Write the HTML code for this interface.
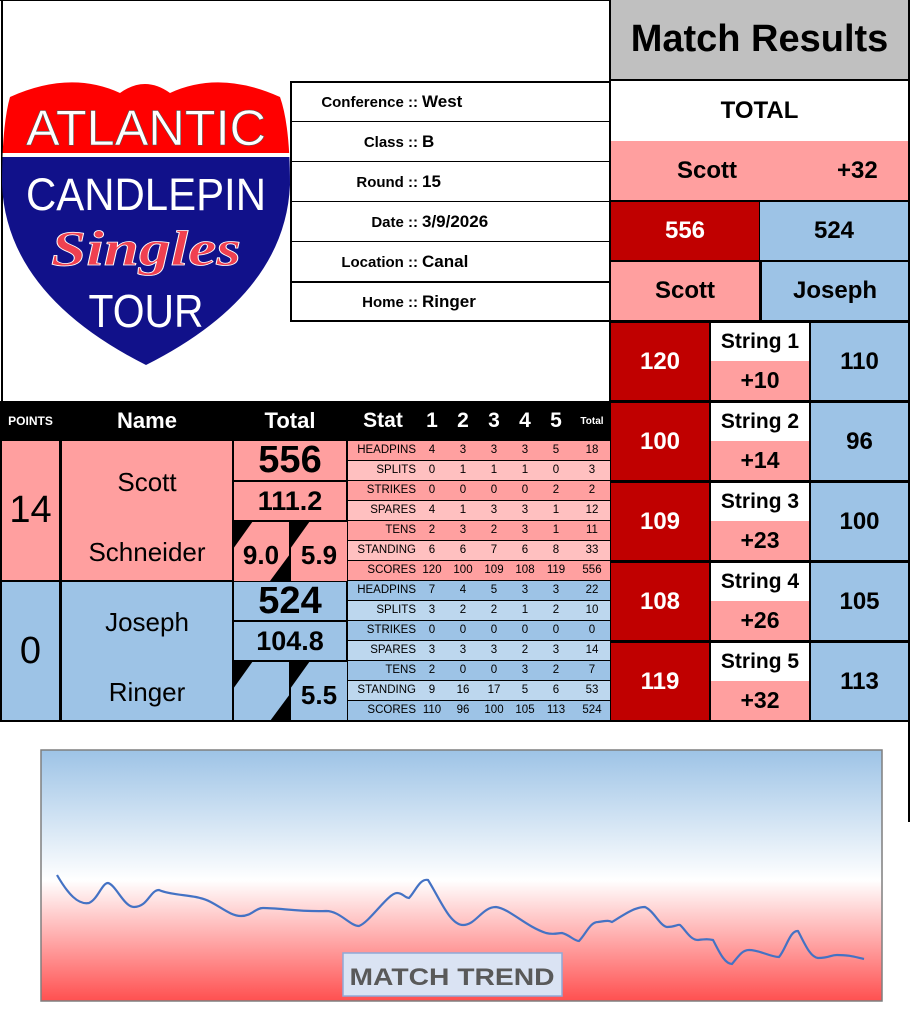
<!DOCTYPE html>
<html><head><meta charset="utf-8"><style>
*{margin:0;padding:0;box-sizing:border-box}
body{width:912px;height:1023px;background:#fff;position:relative;overflow:hidden;font-family:"Liberation Sans",sans-serif;color:#000}
.a{position:absolute;display:flex;align-items:center;justify-content:center;white-space:nowrap}
.b{font-weight:bold}
.st{position:absolute;left:347px;width:263px;height:20px;font-size:11.5px;border-bottom:1px solid #000}
.st span{position:absolute;top:3px;text-align:center;width:30px}
.st .l{left:0;width:68px;text-align:right}
</style></head><body>
<!-- outer lines -->
<div style="position:absolute;left:1px;top:0;width:2px;height:721px;background:#000"></div>
<div style="position:absolute;left:0;top:0;width:612px;height:1px;background:#000"></div>
<div style="position:absolute;left:908px;top:0;width:2px;height:822px;background:#000"></div>

<!-- logo -->
<svg style="position:absolute;left:0;top:75px" width="292" height="300">
<defs><clipPath id="sh"><path d="M10 22 Q70 -5 120 18 Q145 0 170 18 Q220 -5 280 22 Q290 50 290 110 Q285 220 146 290 Q7 220 2 110 Q2 50 10 22Z"/></clipPath></defs>
<g clip-path="url(#sh)">
<rect x="0" y="0" width="292" height="78" fill="#f00"/>
<rect x="0" y="78" width="292" height="4" fill="#fff"/>
<rect x="0" y="82" width="292" height="230" fill="#11118a"/>
</g>
<text x="146" y="70" text-anchor="middle" fill="#fff" stroke="#555" stroke-width="0.6" font-family="Liberation Sans" font-size="50" textLength="240" lengthAdjust="spacingAndGlyphs">ATLANTIC</text>
<text x="146" y="135" text-anchor="middle" fill="#fff" font-family="Liberation Sans" font-size="45" textLength="240" lengthAdjust="spacingAndGlyphs">CANDLEPIN</text>
<text x="146" y="190" text-anchor="middle" fill="#f04050" stroke="#fff" stroke-width="0.8" font-family="Liberation Serif" font-style="italic" font-weight="bold" font-size="50" textLength="190" lengthAdjust="spacingAndGlyphs">Singles</text>
<text x="146" y="252" text-anchor="middle" fill="#fff" font-family="Liberation Sans" font-size="46" textLength="115" lengthAdjust="spacingAndGlyphs">TOUR</text>
</svg>

<!-- info table -->
<div style="position:absolute;left:290px;top:81px;width:320px;height:241px;border:2px solid #000;border-right:none"></div>
<div style="position:absolute;left:290px;top:121px;width:320px;height:1px;background:#000"></div>
<div style="position:absolute;left:290px;top:161px;width:320px;height:1px;background:#000"></div>
<div style="position:absolute;left:290px;top:201px;width:320px;height:1px;background:#000"></div>
<div style="position:absolute;left:290px;top:241px;width:320px;height:1px;background:#000"></div>
<div style="position:absolute;left:290px;top:281px;width:320px;height:2px;background:#000"></div>
<div class="a b" style="left:290px;top:82px;width:128px;height:40px;justify-content:flex-end;font-size:15px">Conference ::</div>
<div class="a b" style="left:422px;top:82px;height:40px;font-size:17px">West</div>
<div class="a b" style="left:290px;top:122px;width:128px;height:40px;justify-content:flex-end;font-size:15px">Class ::</div>
<div class="a b" style="left:422px;top:122px;height:40px;font-size:17px">B</div>
<div class="a b" style="left:290px;top:162px;width:128px;height:40px;justify-content:flex-end;font-size:15px">Round ::</div>
<div class="a b" style="left:422px;top:162px;height:40px;font-size:17px">15</div>
<div class="a b" style="left:290px;top:202px;width:128px;height:40px;justify-content:flex-end;font-size:15px">Date ::</div>
<div class="a b" style="left:422px;top:202px;height:40px;font-size:17px">3/9/2026</div>
<div class="a b" style="left:290px;top:242px;width:128px;height:40px;justify-content:flex-end;font-size:15px">Location ::</div>
<div class="a b" style="left:422px;top:242px;height:40px;font-size:17px">Canal</div>
<div class="a b" style="left:290px;top:282px;width:128px;height:40px;justify-content:flex-end;font-size:15px">Home ::</div>
<div class="a b" style="left:422px;top:282px;height:40px;font-size:17px">Ringer</div>

<!-- right panel -->
<div style="position:absolute;left:609px;top:0;width:301px;height:722px;background:#000"></div>
<div class="a b" style="left:611px;top:0;width:297px;height:79px;background:#c0c0c0;font-size:38px">Match Results</div>
<div class="a b" style="left:611px;top:81px;width:297px;height:60px;background:#fff;font-size:24px">TOTAL</div>
<div class="a b" style="left:611px;top:141px;width:297px;height:59px;background:#ff9f9f;font-size:24px"><span style="position:absolute;left:66px">Scott</span><span style="position:absolute;left:226px">+32</span></div>
<div class="a b" style="left:611px;top:202px;width:148px;height:58px;background:#c00000;color:#fff;font-size:24px">556</div>
<div class="a b" style="left:760px;top:202px;width:148px;height:58px;background:#9dc3e6;font-size:24px">524</div>
<div class="a b" style="left:611px;top:262px;width:148px;height:58px;background:#ff9f9f;font-size:24px">Scott</div>
<div class="a b" style="left:762px;top:262px;width:146px;height:58px;background:#9dc3e6;font-size:24px">Joseph</div>

<div id="strings"></div>

<!-- left header -->
<div style="position:absolute;left:0;top:401px;width:610px;height:40px;background:#000"></div>
<div class="a b" style="left:0;top:401px;width:61px;height:40px;color:#fff;font-size:12px">POINTS</div>
<div class="a b" style="left:61px;top:401px;width:172px;height:40px;color:#fff;font-size:22px">Name</div>
<div class="a b" style="left:233px;top:401px;width:114px;height:40px;color:#fff;font-size:22px">Total</div>
<div class="a b" style="left:355px;top:401px;width:56px;height:40px;color:#fff;font-size:21px">Stat</div>
<div class="a b" style="left:417px;top:401px;width:30px;height:40px;color:#fff;font-size:21px">1</div>
<div class="a b" style="left:448px;top:401px;width:30px;height:40px;color:#fff;font-size:21px">2</div>
<div class="a b" style="left:479px;top:401px;width:30px;height:40px;color:#fff;font-size:21px">3</div>
<div class="a b" style="left:510px;top:401px;width:30px;height:40px;color:#fff;font-size:21px">4</div>
<div class="a b" style="left:541px;top:401px;width:30px;height:40px;color:#fff;font-size:21px">5</div>
<div class="a b" style="left:575px;top:401px;width:34px;height:40px;color:#fff;font-size:10px">Total</div>

<!-- blocks -->
<div style="position:absolute;left:0;top:441px;width:610px;height:281px;background:#000"></div>
<div style="position:absolute;left:2px;top:441px;width:57px;height:139px;background:#ff9f9f"></div>
<div style="position:absolute;left:62px;top:441px;width:170px;height:139px;background:#ff9f9f"></div>
<div style="position:absolute;left:2px;top:582px;width:57px;height:138px;background:#9dc3e6"></div>
<div style="position:absolute;left:62px;top:582px;width:170px;height:138px;background:#9dc3e6"></div>
<div class="a" style="left:2px;top:441px;width:57px;height:139px;font-size:38px">14</div>
<div class="a" style="left:2px;top:582px;width:57px;height:138px;font-size:38px">0</div>
<div class="a" style="left:62px;top:462px;width:170px;height:40px;font-size:26px">Scott</div>
<div class="a" style="left:62px;top:532px;width:170px;height:40px;font-size:26px">Schneider</div>
<div class="a" style="left:62px;top:602px;width:170px;height:40px;font-size:26px">Joseph</div>
<div class="a" style="left:62px;top:672px;width:170px;height:40px;font-size:26px">Ringer</div>

<!-- totals -->
<div class="a b" style="left:234px;top:441px;width:112px;height:39px;background:#ff9f9f;font-size:38px">556</div>
<div class="a b" style="left:234px;top:482px;width:112px;height:38px;background:#ff9f9f;font-size:27px">111.2</div>
<div class="a b" style="left:234px;top:582px;width:112px;height:38px;background:#9dc3e6;font-size:38px">524</div>
<div class="a b" style="left:234px;top:622px;width:112px;height:38px;background:#9dc3e6;font-size:27px">104.8</div>
<svg style="position:absolute;left:233px;top:521px" width="115" height="200">
<rect x="1" y="1" width="113" height="59" fill="#ff9f9f"/>
<polygon points="0,0 20,0 0,28" fill="#000"/><polygon points="57,33 57,60 37,60" fill="#000"/><rect x="56" y="0" width="2" height="60" fill="#000"/>
<polygon points="57,0 77,0 57,28" fill="#000"/>
<text x="28" y="43" text-anchor="middle" font-family="Liberation Sans" font-weight="bold" font-size="26">9.0</text>
<text x="86" y="43" text-anchor="middle" font-family="Liberation Sans" font-weight="bold" font-size="26">5.9</text>
<rect x="1" y="141" width="113" height="58" fill="#9dc3e6"/>
<polygon points="0,140 20,140 0,168" fill="#000"/><polygon points="57,173 57,200 37,200" fill="#000"/><rect x="56" y="140" width="2" height="60" fill="#000"/>
<polygon points="57,140 77,140 57,168" fill="#000"/>
<text x="86" y="183" text-anchor="middle" font-family="Liberation Sans" font-weight="bold" font-size="26">5.5</text>
</svg>

<div id="stats"></div>

<!-- chart -->
<svg style="position:absolute;left:40px;top:749px" width="844" height="254">
<defs><linearGradient id="g" x1="0" y1="0" x2="0" y2="1">
<stop offset="0" stop-color="#9dc3e6"/><stop offset="0.52" stop-color="#ffffff"/><stop offset="0.56" stop-color="#fff0f0"/><stop offset="1" stop-color="#ff5050"/></linearGradient></defs>
<rect x="1" y="1" width="841" height="251" fill="url(#g)" stroke="#7f7f7f" stroke-width="1.5"/>
<path d="M17 126 C28 145,38 156,49 154 C58 150,62 134,68 134 C76 136,84 158,94 158 C108 158,110 141,119 141 C130 146,150 146,160 149 C175 152,188 167,201 167 C212 167,215 159,223 159 C240 159,260 163,286 162 C300 162,310 177,319 177 C330 173,348 144,357 144 C363 144,365 149,369 149 C375 143,380 129,388 131 C400 150,410 176,423 176 C436 176,442 158,456 158 C470 160,485 177,506 184 C514 186,518 184,522 184 C530 186,534 192,539 192 C546 185,550 173,558 173 C566 172,568 171,572 173 C585 165,595 158,605 158 C614 162,620 177,627 178 C635 178,638 175,640 176 C645 180,650 191,658 191 C666 190,668 190,673 191 C678 200,684 215,692 215 C700 205,703 201,709 201 C720 201,730 208,739 208 C746 200,750 181,758 182 C765 195,770 208,778 209 C790 209,790 206,797 206 C810 206,815 208,824 210" fill="none" stroke="#4472c4" stroke-width="2.2"/>
<rect x="303" y="204" width="219" height="43" fill="#dae3f3" stroke="#8fa9d8" stroke-width="1.5"/>
<text x="412" y="236" text-anchor="middle" font-family="Liberation Sans" font-weight="bold" font-size="24" fill="#595959" textLength="205" lengthAdjust="spacingAndGlyphs">MATCH TREND</text>
</svg>

<script>
var s='';
var sc=[120,100,109,108,119],jo=[110,96,100,105,113],df=[10,14,23,26,32];
for(var i=0;i<5;i++){var y=321+i*80;
s+='<div class="a b" style="left:611px;top:'+(y+2)+'px;width:98px;height:77px;background:#c00000;color:#fff;font-size:24px">'+sc[i]+'</div>';
s+='<div class="a b" style="left:711px;top:'+(y+2)+'px;width:98px;height:38px;background:#fff;font-size:21px">String '+(i+1)+'</div>';
s+='<div class="a b" style="left:711px;top:'+(y+40)+'px;width:98px;height:39px;background:#ff9f9f;font-size:23px">+'+df[i]+'</div>';
s+='<div class="a b" style="left:811px;top:'+(y+2)+'px;width:97px;height:77px;background:#9dc3e6;font-size:24px">'+jo[i]+'</div>';}
document.getElementById('strings').outerHTML=s;
var L=['HEADPINS','SPLITS','STRIKES','SPARES','TENS','STANDING','SCORES'];
var A=[[4,3,3,3,5,18],[0,1,1,1,0,3],[0,0,0,0,2,2],[4,1,3,3,1,12],[2,3,2,3,1,11],[6,6,7,6,8,33],[120,100,109,108,119,556]];
var B=[[7,4,5,3,3,22],[3,2,2,1,2,10],[0,0,0,0,0,0],[3,3,3,2,3,14],[2,0,0,3,2,7],[9,16,17,5,6,53],[110,96,100,105,113,524]];
var t='';var xs=[417,448,479,510,541,577];
function blk(D,y0,c1,c2){for(var r=0;r<7;r++){var y=y0+r*20;
t+='<div class="st" style="top:'+y+'px;background:'+(r%2?c2:c1)+';left:348px;width:262px">';
t+='<span class="l">'+L[r]+'</span>';
for(var k=0;k<6;k++)t+='<span style="left:'+(xs[k]-348)+'px">'+D[r][k]+'</span>';
t+='</div>';}}
blk(A,441,'#ffa0a0','#ffc0c0');blk(B,581,'#9dc3e6','#bdd7ee');
document.getElementById('stats').outerHTML=t;
</script>
</body></html>
